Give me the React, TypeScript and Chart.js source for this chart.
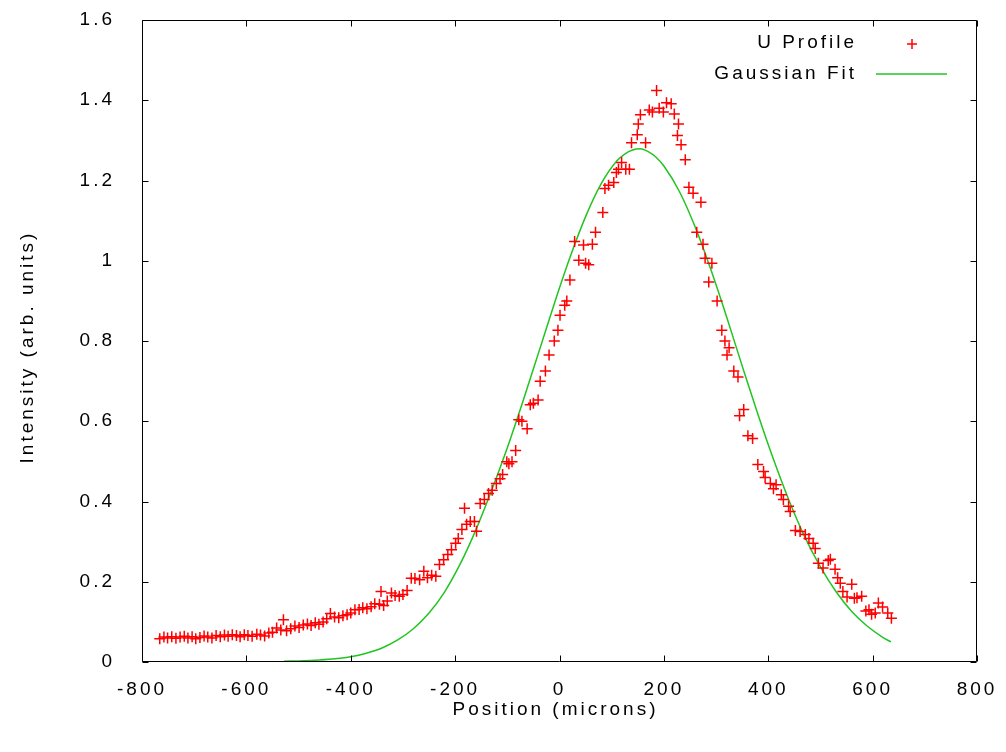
import React, { useEffect, useRef } from 'react';
import { Chart, registerables } from 'chart.js';

Chart.register(...registerables);

// U Profile measured points (position in microns, intensity)
const profileX = [
  -766, -758, -751, -743, -735, -727, -719, -712, -704, -697, -689, -681, -674, -666, -658, -650,
  -642, -635, -627, -619, -612, -604, -597, -589, -580, -573, -565, -557, -550, -542, -534, -529,
  -523, -515, -507, -499, -491, -483, -476, -468, -461, -453, -446, -439, -431, -423, -415, -407,
  -400, -392, -384, -377, -369, -361, -354, -345, -342, -337, -330, -322, -315, -307, -300, -292,
  -284, -277, -268, -260, -253, -245, -237, -230, -222, -214, -207, -199, -194, -187, -182, -178,
  -171, -163, -159, -152, -144, -136, -129, -121, -114, -109, -101, -97, -91, -84, -78, -72,
  -62, -56, -50, -41, -37, -27, -20, -10, -3, 1, 10, 14, 20, 29, 37, 46,
  50, 56, 63, 69, 83, 87, 94, 104, 109, 113, 119, 127, 134, 138, 149, 151,
  155, 165, 172, 178, 186, 191, 199, 205, 214, 220, 226, 228, 233, 241, 248, 256,
  263, 271, 275, 279, 286, 292, 302, 311, 317, 321, 325, 334, 342, 345, 353, 361,
  370, 380, 391, 394, 404, 410, 415, 425, 429, 439, 442, 452, 461, 471, 478, 486,
  490, 496, 505, 515, 519, 528, 533, 538, 543, 551, 560, 565, 570, 579, 587, 593,
  598, 605, 611, 619, 629, 636,
];
const profileY = [
  0.058, 0.062, 0.060, 0.063, 0.059, 0.062, 0.064, 0.060, 0.063, 0.058, 0.061, 0.065, 0.062, 0.060, 0.066, 0.063,
  0.067, 0.064, 0.068, 0.066, 0.063, 0.068, 0.066, 0.064, 0.069, 0.067, 0.065, 0.072, 0.074, 0.085, 0.080, 0.105,
  0.078, 0.083, 0.090, 0.086, 0.092, 0.095, 0.091, 0.098, 0.094, 0.100, 0.108, 0.121, 0.112, 0.110, 0.115, 0.118,
  0.122, 0.130, 0.131, 0.135, 0.133, 0.138, 0.145, 0.144, 0.176, 0.141, 0.152, 0.172, 0.166, 0.164, 0.168, 0.178,
  0.209, 0.208, 0.205, 0.226, 0.210, 0.216, 0.214, 0.243, 0.255, 0.268, 0.280, 0.296, 0.308, 0.330, 0.383, 0.343,
  0.350, 0.350, 0.326, 0.395, 0.405, 0.420, 0.428, 0.445, 0.457, 0.467, 0.499, 0.494, 0.499, 0.527, 0.604, 0.600,
  0.581, 0.641, 0.645, 0.653, 0.700, 0.725, 0.765, 0.800, 0.827, 0.864, 0.889, 0.900, 0.952, 1.048, 1.001, 1.039,
  0.994, 0.990, 1.041, 1.071, 1.120, 1.180, 1.188, 1.195, 1.220, 1.228, 1.245, 1.228, 1.228, 1.294, 1.314, 1.341,
  1.364, 1.294, 1.376, 1.371, 1.424, 1.380, 1.371, 1.394, 1.391, 1.366, 1.312, 1.341, 1.289, 1.252, 1.183, 1.168,
  1.071, 1.146, 1.041, 1.006, 0.947, 0.994, 0.900, 0.827, 0.800, 0.765, 0.783, 0.725, 0.710, 0.614, 0.629, 0.564,
  0.557, 0.492, 0.475, 0.460, 0.445, 0.432, 0.442, 0.417, 0.405, 0.388, 0.375, 0.328, 0.325, 0.318, 0.308, 0.296,
  0.283, 0.246, 0.234, 0.253, 0.256, 0.231, 0.210, 0.196, 0.176, 0.162, 0.194, 0.159, 0.160, 0.164, 0.127, 0.130,
  0.119, 0.122, 0.147, 0.137, 0.122, 0.109,
];

// Gaussian fit curve
const fitX = [
  -528, -490, -460, -430, -400, -370, -340, -310, -280, -250, -220, -190, -160, -130, -100, -70,
  -40, -10, 20, 50, 80, 110, 125, 140, 155, 170, 185, 200, 230, 260, 290, 320, 350, 380, 410,
  440, 470, 500, 530, 560, 590, 620, 635,
];
const fitY = [
  0.002, 0.003, 0.005, 0.008, 0.013, 0.022, 0.035, 0.055, 0.083, 0.122, 0.175, 0.245, 0.330, 0.428, 0.534, 0.650,
  0.771, 0.893, 1.008, 1.110, 1.192, 1.249, 1.266, 1.276, 1.279, 1.272, 1.258, 1.236, 1.172, 1.084, 0.978, 0.861, 0.738, 0.618, 0.505,
  0.402, 0.312, 0.237, 0.175, 0.126, 0.089, 0.061, 0.050,
];

const seriesLabels = ['U Profile', 'Gaussian Fit'];
const xTitle = 'Position (microns)';
const yTitle = 'Intensity (arb. units)';
const xRange = [-800, 800];
const yRange = [0, 1.6];

const FONT = "'Liberation Sans', Arial, sans-serif";
const FONT_SIZE = 19;
const LS = '3px';
const RED = '#ff0000';
const GREEN = '#22c422';

const gnuPlugin = {
  id: 'gnuFrame',
  beforeLayout(chart: any) {
    (chart.ctx as any).letterSpacing = LS;
  },
  beforeDraw(chart: any) {
    const ctx = chart.ctx;
    (ctx as any).letterSpacing = LS;
    ctx.save();
    ctx.fillStyle = '#ffffff';
    ctx.fillRect(0, 0, chart.width, chart.height);
    ctx.restore();
  },
  afterDraw(chart: any) {
    const ctx = chart.ctx as CanvasRenderingContext2D;
    const a = chart.chartArea;
    const xs = chart.scales.x;
    const ys = chart.scales.y;
    ctx.save();
    ctx.strokeStyle = '#000000';
    ctx.lineWidth = 1;
    const L = Math.round(a.left) + 0.5;
    const R = Math.round(a.right) - 0.5;
    const T = Math.round(a.top) + 0.5;
    const B = Math.round(a.bottom) - 0.5;
    ctx.beginPath();
    ctx.rect(L, T, R - L, B - T);
    const tl = 6;
    xs.ticks.forEach((t: any) => {
      const px = Math.round(xs.getPixelForValue(t.value)) + 0.5;
      ctx.moveTo(px, B);
      ctx.lineTo(px, B - tl);
      ctx.moveTo(px, T);
      ctx.lineTo(px, T + tl);
    });
    ys.ticks.forEach((t: any) => {
      const py = Math.round(ys.getPixelForValue(t.value)) + 0.5;
      ctx.moveTo(L, py);
      ctx.lineTo(L + tl, py);
      ctx.moveTo(R, py);
      ctx.lineTo(R - tl, py);
    });
    ctx.stroke();

    (ctx as any).letterSpacing = LS;
    ctx.font = `${FONT_SIZE}px ${FONT}`;
    ctx.fillStyle = '#000000';
    ctx.textBaseline = 'middle';

    // axis titles
    ctx.textAlign = 'center';
    ctx.fillText(xTitle, (a.left + a.right) / 2 - 4, 710);
    ctx.save();
    ctx.translate(28, (a.top + a.bottom) / 2 + 6);
    ctx.rotate(-Math.PI / 2);
    ctx.fillText(yTitle, 0, 0);
    ctx.restore();

    // legend (gnuplot style: right-aligned text then sample)
    ctx.textAlign = 'right';
    const textRight = a.right - 120;
    const row1 = a.top + 23;
    const row2 = a.top + 54;
    ctx.fillText(chart.data.datasets[0].label, textRight, row1);
    ctx.fillText(chart.data.datasets[1].label, textRight, row2);
    // cross sample
    const cx = a.right - 65;
    ctx.strokeStyle = RED;
    ctx.lineWidth = 1.5;
    ctx.beginPath();
    ctx.moveTo(cx - 5, row1 + 1);
    ctx.lineTo(cx + 5, row1 + 1);
    ctx.moveTo(cx, row1 - 4);
    ctx.lineTo(cx, row1 + 6);
    ctx.stroke();
    // line sample
    ctx.strokeStyle = GREEN;
    ctx.lineWidth = 1.5;
    ctx.beginPath();
    ctx.moveTo(a.right - 101, row2);
    ctx.lineTo(a.right - 30, row2);
    ctx.stroke();
    ctx.restore();
  },
};

export default function App() {
  const ref = useRef<HTMLCanvasElement | null>(null);

  useEffect(() => {
    if (!ref.current) return;
    Chart.defaults.font.family = FONT;
    Chart.defaults.font.size = FONT_SIZE;
    Chart.defaults.color = '#000000';

    const profileData = profileX.map((x, i) => ({ x, y: profileY[i] }));
    const fitData = fitX.map((x, i) => ({ x, y: fitY[i] }));

    const chart = new Chart(ref.current, {
      type: 'scatter',
      data: {
        datasets: [
          {
            label: seriesLabels[0],
            data: profileData,
            pointStyle: 'cross',
            pointRadius: 5.5,
            pointBorderWidth: 1.5,
            borderColor: RED,
            backgroundColor: RED,
            showLine: false,
          },
          {
            label: seriesLabels[1],
            data: fitData,
            showLine: true,
            pointRadius: 0,
            borderColor: GREEN,
            backgroundColor: GREEN,
            borderWidth: 1.5,
            cubicInterpolationMode: 'monotone',
          } as any,
        ],
      },
      options: {
        animation: false,
        responsive: false,
        devicePixelRatio: 1,
        layout: { padding: { left: 0, top: 20, right: 29, bottom: 0 } },
        plugins: {
          legend: { display: false },
          tooltip: { enabled: false },
        },
        scales: {
          x: {
            type: 'linear',
            min: xRange[0],
            max: xRange[1],
            afterFit: (s: any) => {
              s.height = 90;
              s.paddingLeft = 0;
              s.paddingRight = 0;
            },
            ticks: { stepSize: 200, padding: 16, color: '#000', font: { size: FONT_SIZE } },
            grid: { display: false, drawTicks: false },
            border: { display: false },
            title: { display: false, text: xTitle },
          },
          y: {
            type: 'linear',
            min: yRange[0],
            max: yRange[1],
            afterFit: (s: any) => {
              s.width = 142;
              s.paddingTop = 0;
              s.paddingBottom = 0;
            },
            ticks: {
              stepSize: 0.2,
              padding: 27,
              color: '#000',
              font: { size: FONT_SIZE },
              callback: (v: any) => String(parseFloat(Number(v).toFixed(2))),
            },
            grid: { display: false, drawTicks: false },
            border: { display: false },
            title: { display: false, text: yTitle },
          },
        },
      },
      plugins: [gnuPlugin],
    } as any);

    return () => chart.destroy();
  }, []);

  return (
    <div style={{ position: 'absolute', left: 0, top: 0, width: 1006, height: 752, background: '#fff' }}>
      <canvas ref={ref} width={1006} height={752} style={{ display: 'block', width: 1006, height: 752 }} />
    </div>
  );
}
